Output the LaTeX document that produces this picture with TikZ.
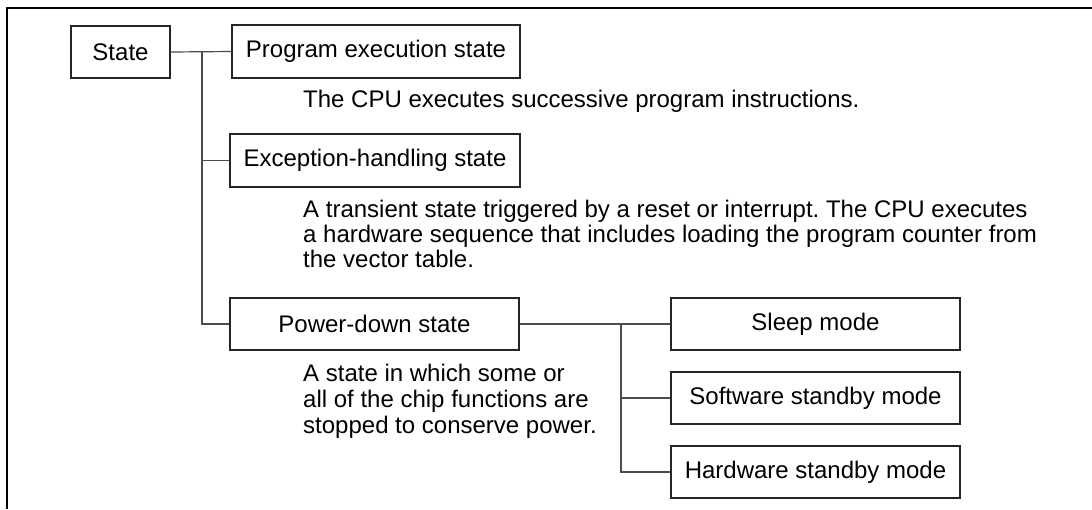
\documentclass[tikz,border=0pt]{standalone}
\usepackage{fontspec}
\setmainfont{Liberation Sans}
\frenchspacing
\begin{document}
\begin{tikzpicture}[x=1pt,y=-1pt,
  box/.style={draw=black!85, line width=1.3pt, inner sep=0pt, anchor=center, font=\fontsize{24}{25}\selectfont},
  conn/.style={draw=black!70, line width=1.2pt},
  desc/.style={anchor=base west, inner sep=0pt, font=\fontsize{24}{25}\selectfont},
  frame/.style={draw=black, line width=2pt}]
\useasboundingbox (0,0) rectangle (1092,509);
% frame
\coordinate (fa) at (1092,8);
\coordinate (fb) at (7,8);
\coordinate (fc) at (7,509);
\draw[frame] (fa) -- (fb) -- (fc);
% boxes
\node[box, minimum width=99pt, minimum height=52pt] (state) at (120.5,52) {State};
\node[box, minimum width=288pt, minimum height=53pt] (prog) at (376,51.5) {Program execution state};
\node[box, minimum width=290pt, minimum height=53pt] (exc) at (375,160.5) {Exception-handling state};
\node[box, minimum width=289pt, minimum height=52pt] (pd) at (374.5,324) {Power-down state};
\node[box, minimum width=289pt, minimum height=52pt] (sleep) at (815.5,324) {Sleep mode};
\node[box, minimum width=289pt, minimum height=52pt] (sw) at (815.5,398) {Software standby mode};
\node[box, minimum width=289pt, minimum height=52pt] (hw) at (815.5,472) {Hardware standby mode};
% connectors
\coordinate (j1) at (202,52);
\coordinate (j2) at (621,324);
\draw[conn] (state.east) -- (prog.west);
\draw[conn] (j1) |- (exc.west);
\draw[conn] (j1) |- (pd.west);
\draw[conn] (pd.east) -- (sleep.west);
\draw[conn] (j2) |- (sw.west);
\draw[conn] (j2) |- (hw.west);
% descriptions
\node[desc] (d1) at (303,107) {The CPU executes successive program instructions.};
\node[desc] (d2) at (303,217) {\vtop{\baselineskip=25pt
  \hbox{A transient state triggered by a reset or interrupt. The CPU executes}
  \hbox{a hardware sequence that includes loading the program counter from}
  \hbox{the vector table.}}};
\node[desc] (d3) at (303,381) {\vtop{\baselineskip=26pt
  \hbox{A state in which some or}
  \hbox{all of the chip functions are}
  \hbox{stopped to conserve power.}}};
\end{tikzpicture}
\end{document}
